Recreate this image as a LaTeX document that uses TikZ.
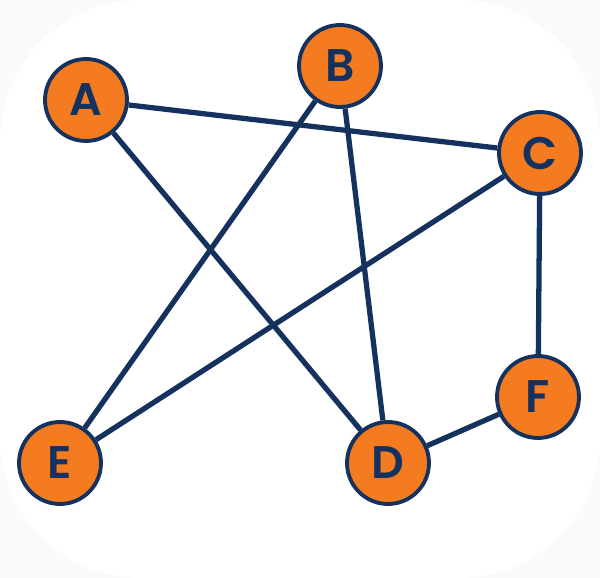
\documentclass[tikz,border=0pt]{standalone}
\usepackage{fontspec}
\setmainfont{Poppins}[BoldFont={* SemiBold}]
\begin{document}
\begin{tikzpicture}[x=0.02cm,y=-0.02cm,
  vtx/.style={circle,draw=navy,line width=2.2pt,fill=vorange,minimum size=1.64cm,inner sep=0pt,text=navy,font=\fontsize{26}{28}\selectfont\bfseries},
  edge/.style={draw=navy,line width=3pt}]
\definecolor{navy}{HTML}{15325F}
\definecolor{vorange}{HTML}{F47B20}
\fill[black!2] (0,0) rectangle (600,578);
\fill[white] (0,0) [rounded corners=80] rectangle (600,578);
\useasboundingbox (0,0) rectangle (600,578);
\node[vtx] (A) at (86,100) {A};
\node[vtx] (B) at (340,66) {B};
\node[vtx] (C) at (540,153) {C};
\node[vtx] (E) at (60,463) {E};
\node[vtx] (D) at (388,463) {D};
\node[vtx] (F) at (538,397) {F};
\draw[edge] (A) -- (C);
\draw[edge] (A) -- (D);
\draw[edge] (B) -- (E);
\draw[edge] (B) -- (D);
\draw[edge] (C) -- (E);
\draw[edge] (C) -- (F);
\draw[edge] (F) -- (D);
\end{tikzpicture}
\end{document}
